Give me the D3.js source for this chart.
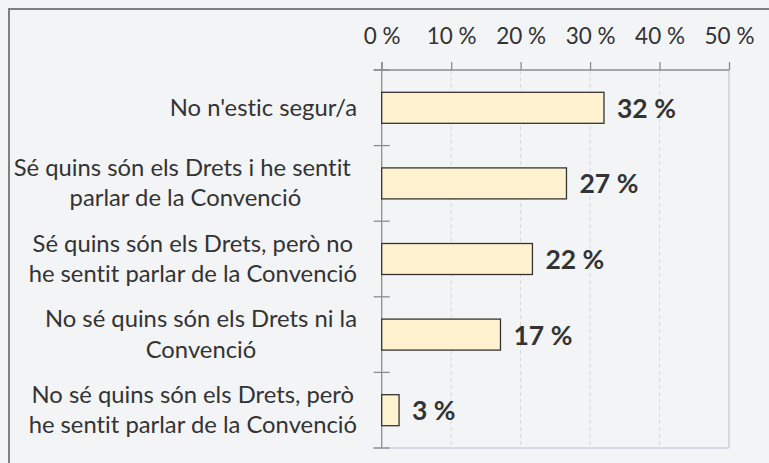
<!DOCTYPE html>
<html>
<head>
<meta charset="utf-8">
<script src="https://cdn.jsdelivr.net/npm/d3@7"></script>
<style>
  html, body { margin: 0; padding: 0; background: #f3f4f6; }
  svg { display: block; }
  text { font-variant-ligatures: none; white-space: pre; }
</style>
</head>
<body>
<svg id="chart" width="769" height="463"></svg>
<script>
// ---- data ----
const categories = [
  "No n'estic segur/a",
  "Sé quins són els Drets i he sentit \nparlar de la Convenció",
  "Sé quins són els Drets, però no\nhe sentit parlar de la Convenció",
  "No sé quins són els Drets ni la\nConvenció",
  "No sé quins són els Drets, però\nhe sentit parlar de la Convenció"
];
const values = [32.0, 26.6, 21.7, 17.1, 2.5];
const tickValues = [0, 10, 20, 30, 40, 50];

// ---- layout ----
const plot = { left: 381.7, right: 729, top: 70, bottom: 448 };
const font = "Lato, 'Liberation Sans', sans-serif";
const textColor = "#333333";

const svg = d3.select("#chart");

// outer frame (cropped at right/bottom)
svg.append("rect")
  .attr("x", 9).attr("y", 9).attr("width", 900).attr("height", 600)
  .attr("fill", "#f3f4f6").attr("stroke", "#808080").attr("stroke-width", 2);

const x = d3.scaleLinear().domain([0, 50]).range([plot.left, plot.right]);
const y = d3.scaleBand().domain(categories).range([plot.top, plot.bottom]).padding(0);

// gridlines (dashed)
svg.append("g").selectAll("line")
  .data(tickValues.filter(t => t > 0 && t < 50))
  .join("line")
  .attr("x1", d => x(d)).attr("x2", d => x(d))
  .attr("y1", plot.top).attr("y2", plot.bottom)
  .attr("stroke", "#d6d7de").attr("stroke-width", 1)
  .attr("stroke-dasharray", "4,3");

// plot border right & bottom
svg.append("line")
  .attr("x1", x(50)).attr("x2", x(50)).attr("y1", plot.top).attr("y2", plot.bottom)
  .attr("stroke", "#cfd0de").attr("stroke-width", 1.5);
svg.append("line")
  .attr("x1", plot.left - 8).attr("x2", x(50)).attr("y1", plot.bottom).attr("y2", plot.bottom)
  .attr("stroke", "#cfd0de").attr("stroke-width", 1.5);

// top axis
const xAxis = d3.axisTop(x).tickValues(tickValues).tickSize(8).tickFormat(d => d + " %");
const gx = svg.append("g").attr("transform", `translate(0,${plot.top})`).call(xAxis);
gx.select(".domain").remove();
gx.selectAll(".tick line").attr("stroke", "#8c8c8c").attr("stroke-width", 1.3);
gx.selectAll(".tick text")
  .attr("y", -26.5).attr("dy", 0)
  .attr("fill", textColor)
  .style("font-family", font).style("font-size", "22.5px");
svg.append("line")
  .attr("x1", plot.left - 8).attr("x2", x(50)).attr("y1", plot.top).attr("y2", plot.top)
  .attr("stroke", "#8c8c8c").attr("stroke-width", 1.3);

// left axis line and category ticks
svg.append("line")
  .attr("x1", plot.left).attr("x2", plot.left).attr("y1", plot.top - 8).attr("y2", plot.bottom)
  .attr("stroke", "#8c8c8c").attr("stroke-width", 1.3);
const boundaries = categories.map(c => y(c)).concat([plot.bottom]);
svg.append("g").selectAll("line")
  .data(boundaries)
  .join("line")
  .attr("x1", plot.left - 8).attr("x2", plot.left + 8)
  .attr("y1", d => d).attr("y2", d => d)
  .attr("stroke", "#8c8c8c").attr("stroke-width", 1.3);

// bars
const barH = y.bandwidth() * 0.41;
svg.append("g").selectAll("rect")
  .data(values)
  .join("rect")
  .attr("x", x(0))
  .attr("y", (d, i) => y(categories[i]) + y.bandwidth() / 2 - barH / 2)
  .attr("width", d => x(d) - x(0))
  .attr("height", barH)
  .attr("fill", "#fff3cf")
  .attr("stroke", "#333333").attr("stroke-width", 1.3);

// value labels
svg.append("g").selectAll("text")
  .data(values)
  .join("text")
  .attr("x", d => x(d) + 13)
  .attr("y", (d, i) => y(categories[i]) + y.bandwidth() / 2 + 10)
  .attr("fill", textColor)
  .style("font-family", font).style("font-size", "26.5px").style("font-weight", "bold")
  .text(d => Math.round(d) + " %");

// category labels
const lineH = 30.5;
const labelRight = 357;
categories.forEach((c, i) => {
  const lines = c.split("\n");
  const cy = y(c) + y.bandwidth() / 2;
  const g = svg.append("g");
  const texts = lines.map((ln, j) =>
    g.append("text")
      .attr("y", cy + 7.8 + (j - (lines.length - 1) / 2) * lineH)
      .attr("fill", textColor)
      .style("font-family", font).style("font-size", "23.8px")
      .attr("text-anchor", "middle")
      .text(ln));
  const maxW = d3.max(texts, t => t.node().getComputedTextLength());
  texts.forEach(t => t.attr("x", labelRight - maxW / 2));
});
</script>
</body>
</html>
